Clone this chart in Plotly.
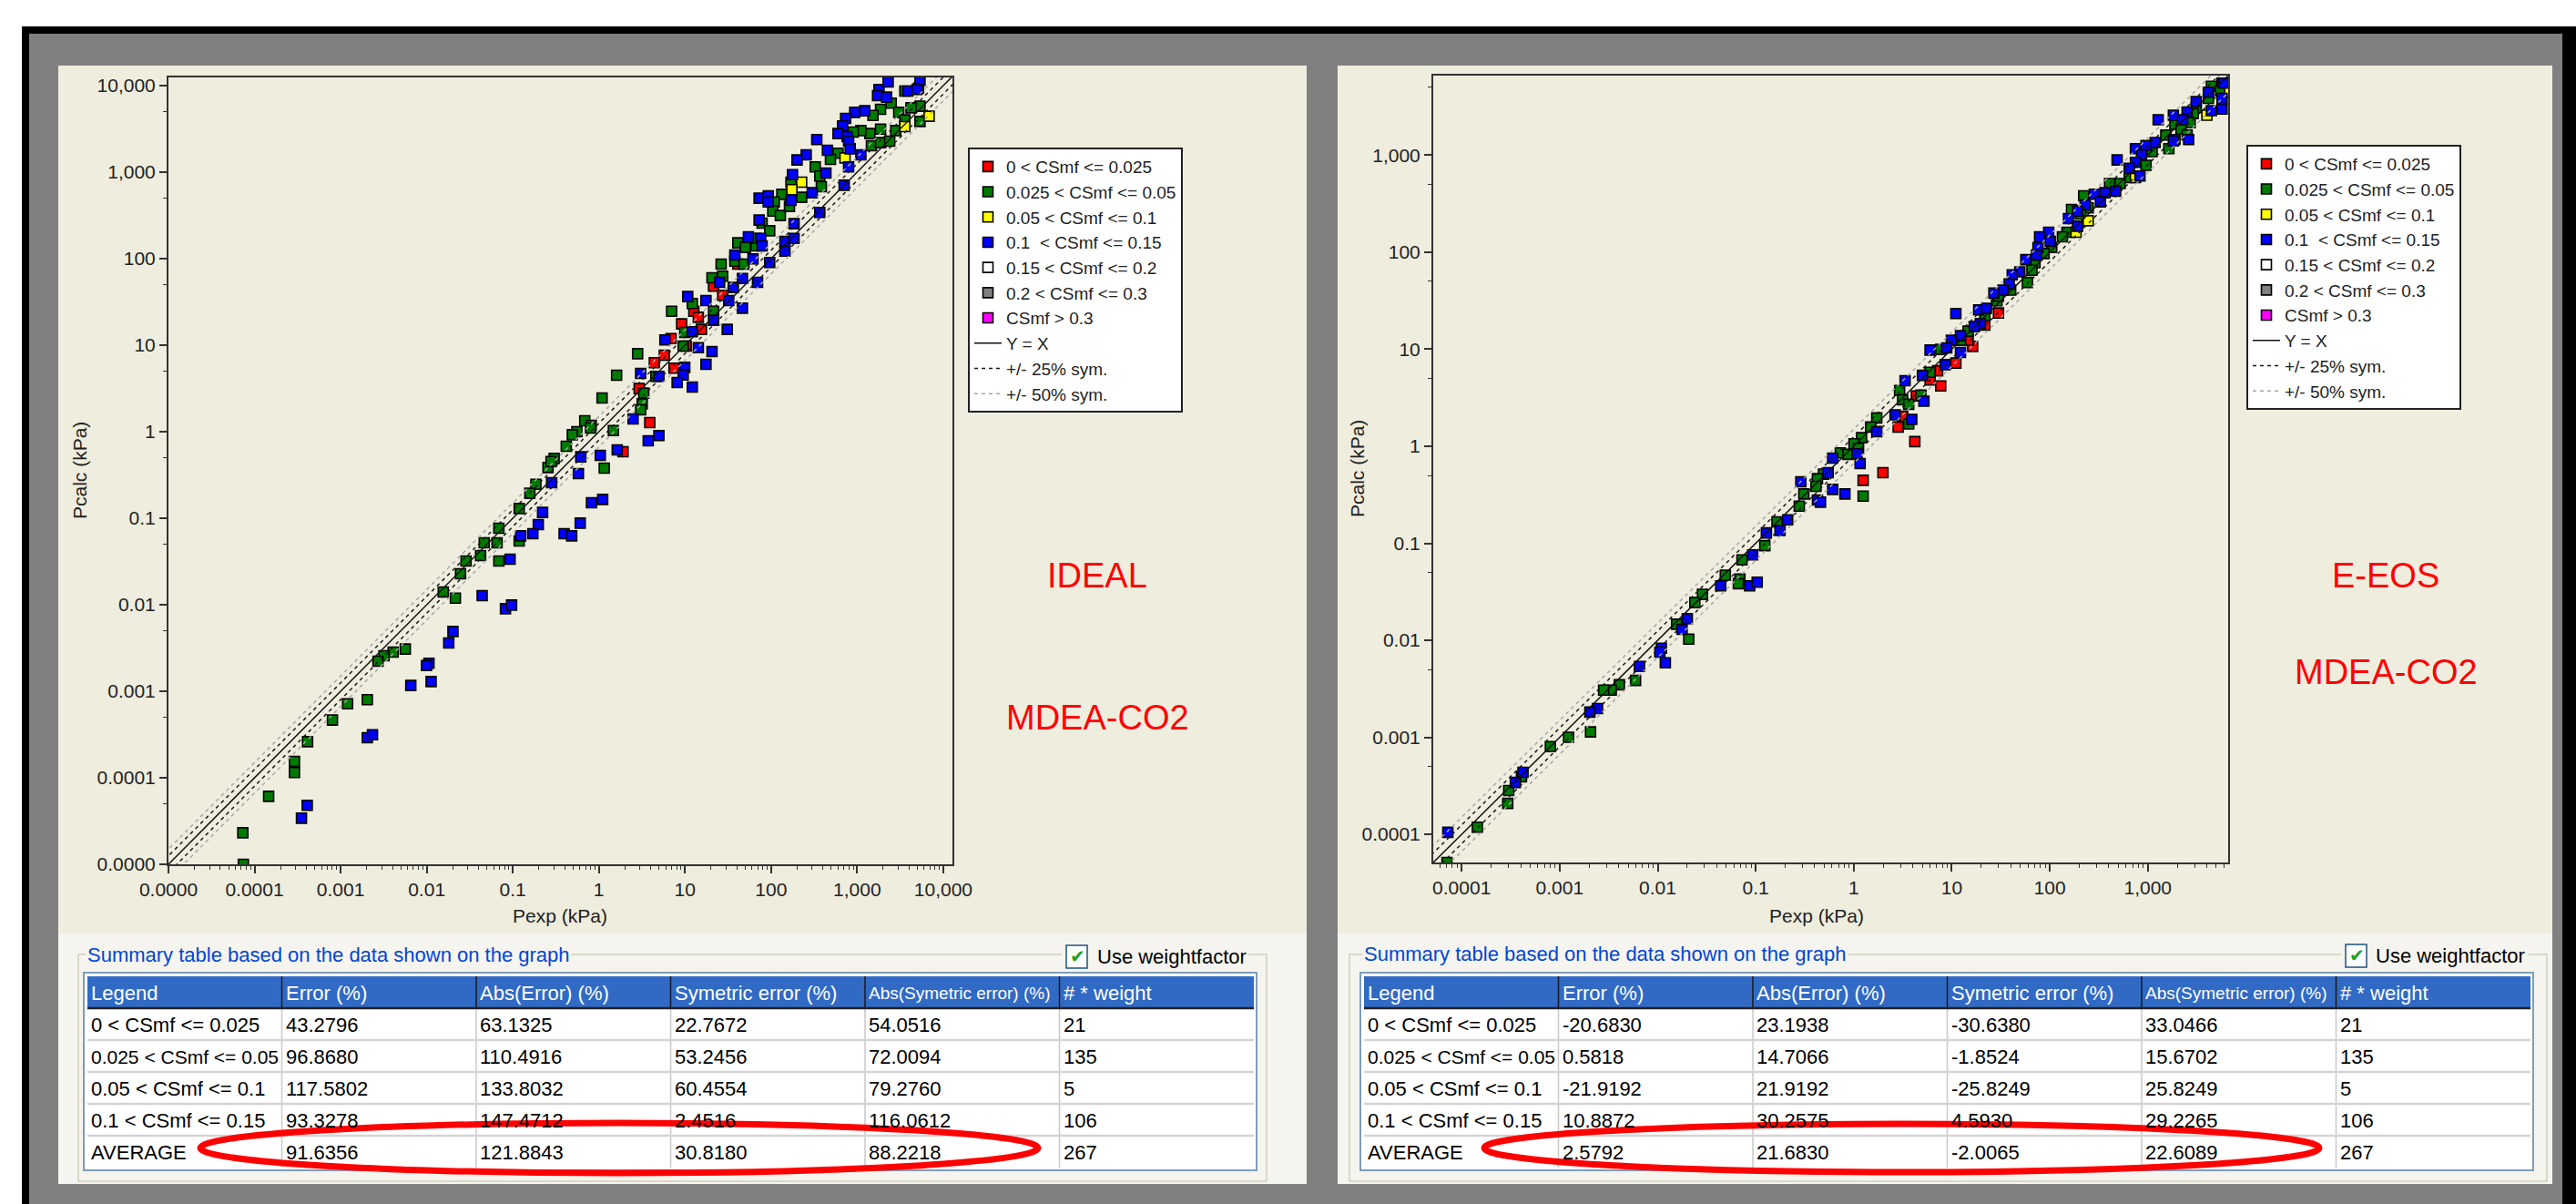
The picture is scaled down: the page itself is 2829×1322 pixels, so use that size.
import plotly.graph_objects as go

W, H = 2829, 1322
FONT = "Liberation Sans, Arial, Helvetica, sans-serif"

# ------------------------------------------------------------------
# DATA  (pressures, stored as log10 of kPa)
# ------------------------------------------------------------------
category_names = ["0 < CSmf <= 0.025", "0.025 < CSmf <= 0.05", "0.05 < CSmf <= 0.1",
                  "0.1 \u00a0< CSmf <= 0.15", "0.15 < CSmf <= 0.2", "0.2 < CSmf <= 0.3", "CSmf > 0.3"]
line_names = ["Y = X", "+/- 25% sym.", "+/- 50% sym."]
sym_factors = [1.25, 1.5]
ref_line_ends = [1e-6, 1e5]

# ---- IDEAL panel ----
ideal_red_log_pexp = [1.614, 1.332, 1.438, 1.103, 1.155, 0.961, 1.191, 0.838, 0.760, 0.644, 0.873, 1.014, 0.591, 0.468, 0.280]
ideal_red_log_pcalc = [1.937, 1.681, 1.576, 1.393, 1.323, 1.246, 1.183, 1.077, 0.884, 0.797, 0.734, 0.990, 0.106, 0.499, -0.232]

ideal_green_log_pexp = [3.554, 3.713, 3.730, 3.625, 3.395, 3.272, 3.184, 3.483, 3.554, 3.730, 3.448, 3.272, 3.148, 3.043, 2.954,
                        3.166, 3.272, 3.378, 2.778, 2.690, 2.513, 2.566, 2.584, 2.355, 2.231, 2.125, 2.037, 2.020, 2.108, 2.214,
                        1.896, 1.984, 1.614, 1.702, 1.826, 1.826, 1.420, 1.579, 1.685, 1.314, 1.438, 1.085, 0.845, 1.332, 0.997,
                        0.979, 0.521, 0.503, 0.485, 0.450, 0.662, 0.037, 0.206, -0.164, -0.090,
                        -0.256, -0.309, -0.379, 0.168, -0.097, -0.520, -0.591, -0.556, -0.732, -0.802, -0.926, -1.162, -1.183,
                        -1.332, -1.374, -1.543, -1.162, -1.607, -0.926, -1.808, -1.667, 0.062, -2.249, -2.390, -2.496, -2.566,
                        -2.690, -2.919, -3.095, -3.384, -3.536, -3.536, -3.836, -4.136, -4.130]
ideal_green_log_pcalc = [3.937, 3.972, 3.762, 3.744, 3.797, 3.727, 3.656, 3.691, 3.604, 3.586, 3.481, 3.498, 3.446, 3.481, 3.463,
                         3.306, 3.341, 3.358, 3.218, 3.148, 3.060, 2.955, 2.832, 2.709, 2.884, 2.744, 2.656, 2.551, 2.499, 2.604,
                         2.411, 2.323, 2.183, 2.130, 2.148, 2.235, 1.937, 1.972, 1.937, 1.779, 1.797, 1.481, 1.393, 1.393, 1.148,
                         0.990, 0.446, 0.323, 0.253, 0.902, 0.639, 0.389, 0.653, 0.126, 0.074,
                         0.000, -0.035, -0.169, 0.014, 0.042, -0.309, -0.414, -0.344, -0.607, -0.712, -0.888, -1.116, -1.284,
                         -1.284, -1.432, -1.495, -1.495, -1.642, -1.263, -1.853, -1.923, -0.421, -2.512, -2.547, -2.590, -2.653,
                         -3.098, -3.144, -3.333, -3.583, -3.811, -3.940, -4.214, -4.635, -5.000]

ideal_yellow_log_pexp = [3.836, 3.554, 2.859, 2.355, 2.242]
ideal_yellow_log_pcalc = [3.646, 3.527, 3.165, 2.884, 2.797]

ideal_blue_log_pexp = [3.254, 3.360, 3.237, 3.342, 3.730, 3.589, 3.695, 2.972, 3.088, 2.866, 2.831, 2.778, 2.884, 2.901, 2.919,
                       3.043, 2.901, 2.531, 2.655, 2.408, 2.302, 2.249, 2.637, 2.478, 1.861, 1.967, 1.967, 2.231, 2.849, 2.566,
                       1.861, 2.267, 2.161, 2.267, 2.161, 1.737, 1.879, 1.896, 1.579, 1.790, 1.984, 1.667, 1.402, 1.561, 1.843,
                       1.508, 1.032, 1.244, 1.332, 1.667, 1.491, 1.085, 0.767, 1.155, 1.314, 1.244, 0.997, 0.979, 0.697, 0.909,
                       1.085, 0.485, 0.697, 0.573, 0.397,
                       0.213, 0.016, -0.210, -0.238, -0.549, -0.654, -0.704, -0.767, -0.908, -1.032, -0.086, 0.044, -0.217,
                       -0.404, -0.316, -1.356, -1.085, -1.014, -1.695, -1.744, -1.974, -2.002, -1.949, -2.185, -2.690, -2.630,
                       -3.388, -3.455]
ideal_blue_log_pcalc = [3.955, 4.042, 3.884, 3.867, 4.060, 3.937, 3.955, 3.691, 3.709, 3.621, 3.534, 3.446, 3.411, 3.358, 3.270,
                        3.200, 3.060, 3.376, 3.253, 3.200, 3.141, 2.972, 2.990, 2.762, 2.699, 2.727, 2.656, 2.674, 2.849, 2.534,
                        2.446, 2.404, 2.200, 2.235, 2.088, 2.253, 2.235, 2.148, 2.042, 1.997, 1.955, 1.772, 1.727, 1.667, 1.727,
                        1.516, 1.562, 1.516, 1.288, 1.428, 1.183, 1.155, 1.060, 0.972, 0.927, 0.779, 0.744, 0.656, 0.639, 0.569,
                        0.516, 0.674, -0.045, -0.105, 0.147,
                        -0.211, -0.274, -0.291, -0.484, -0.590, -0.933, -1.074, -1.179, -1.204, -1.474, -0.821, -0.783, -1.056,
                        -1.179, -1.204, -1.895, -2.046, -2.004, -2.309, -2.442, -2.677, -2.702, -2.888, -2.933, -3.537, -3.502,
                        -4.319, -4.467]

# ---- E-EOS panel ----
eeos_red_log_pexp = [1.477, 1.337, 1.213, 1.167, 1.042, 0.856, 0.779, 0.887, 0.639, 0.499, 0.453, 0.623, 0.298, 0.096]
eeos_red_log_pcalc = [1.374, 1.249, 1.029, 1.092, 0.857, 0.778, 0.684, 0.622, 0.518, 0.308, 0.198, 0.048, -0.272, -0.351]

eeos_green_log_pexp = [3.758, 3.649, 3.743, 3.618, 3.494, 3.463, 3.339, 3.277, 3.432, 3.339, 3.184, 3.215, 3.277, 3.401, 2.982,
                       3.044, 2.811, 2.718, 2.610, 2.346, 2.392, 2.315, 2.222, 2.175, 2.129, 2.020, 1.942, 1.849, 1.818, 1.772,
                       1.601, 1.461, 1.477, 1.337, 1.167, 1.089, 0.887, 0.779, 0.468, 0.499, 0.561, 0.685, 0.561, 0.235, 0.173,
                       0.080, 0.003, 0.049, -0.137, -0.059, -0.308, -0.370, -0.385, -0.509, -0.556, 0.096,
                       -0.907, -1.140, -1.310, -1.161, -1.177, -1.543, -1.621, -1.807, -1.683, -2.226, -2.391, -2.474, -2.552,
                       -2.909, -2.685, -3.095, -3.390, -3.520, -3.530, -3.840, -0.783, -4.150]
eeos_green_log_pcalc = [3.742, 3.710, 3.663, 3.585, 3.491, 3.428, 3.350, 3.318, 3.334, 3.271, 3.208, 3.067, 3.161, 3.208, 2.895,
                        3.036, 2.769, 2.707, 2.707, 2.581, 2.456, 2.393, 2.440, 2.205, 2.158, 2.048, 1.986, 1.891, 1.813, 1.688,
                        1.609, 1.499, 1.547, 1.343, 1.186, 1.092, 0.998, 0.763, 0.574, 0.480, 0.433, 0.527, 0.229, 0.292, 0.198,
                        0.088, 0.026, -0.021, -0.068, -0.084, -0.288, -0.335, -0.413, -0.492, -0.617, -0.514,
                        -1.025, -1.172, -1.329, -1.370, -1.417, -1.527, -1.611, -1.834, -1.988, -2.414, -2.458, -2.514, -2.514,
                        -3.000, -2.944, -3.095, -3.408, -3.549, -3.681, -3.926, -0.780, -4.290]

eeos_yellow_log_pexp = [2.392, 2.268, 3.603, 3.836, 2.874]
eeos_yellow_log_pcalc = [2.324, 2.205, 3.412, 3.648, 2.769]

eeos_blue_log_pexp = [3.774, 3.618, 3.758, 3.649, 3.758, 3.494, 3.401, 3.261, 3.355, 3.106, 3.417, 3.261, 3.075, 2.982, 2.874,
                      2.936, 2.874, 2.811, 2.920, 2.687, 2.672, 2.563, 2.455, 2.517, 2.361, 2.284, 2.191, 2.284, 1.989, 1.896,
                      2.005, 1.880, 1.865, 1.756, 1.694, 1.617, 1.586, 1.523, 1.430, 1.275, 1.353, 1.291, 1.229, 1.089, 1.042,
                      0.996, 0.949, 0.779, 1.089, 0.934, 0.701, 0.524, 0.716, 0.422, 0.592, 0.235, 0.065, -0.215, -0.261,
                      -0.540, -0.215, -0.090, -0.370, -0.339, 0.034,
                      -0.891, -0.752, -0.674, -1.031, -1.357, -1.062, -0.985, -1.698, -1.751, -1.962, -1.978, -1.922, -2.186,
                      -2.614, -2.692, -3.374, -3.452, -4.141]
eeos_blue_log_pcalc = [3.742, 3.648, 3.585, 3.459, 3.475, 3.553, 3.444, 3.412, 3.365, 3.365, 3.161, 3.146, 3.130, 3.099, 3.067,
                       3.005, 2.926, 2.864, 2.785, 2.951, 2.628, 2.613, 2.597, 2.519, 2.487, 2.425, 2.346, 2.268, 2.205, 2.158,
                       2.111, 2.048, 1.970, 1.923, 1.797, 1.766, 1.672, 1.609, 1.578, 1.405, 1.421, 1.264, 1.233, 1.139, 1.368,
                       1.092, 1.013, 0.991, 0.966, 0.841, 0.731, 0.675, 0.465, 0.324, 0.277, 0.151, -0.178, -0.122, -0.272,
                       -0.366, -0.445, -0.492, -0.554, -0.576, -0.078,
                       -0.893, -0.868, -0.758, -1.119, -1.439, -1.439, -1.401, -1.778, -1.887, -2.082, -2.122, -2.232, -2.270,
                       -2.703, -2.740, -3.361, -3.465, -3.979]

# ---- tick labels ----
ideal_tick_vals = [1e-5, 1e-4, 1e-3, 1e-2, 1e-1, 1, 10, 100, 1000, 10000]
ideal_tick_text = ["0.0000", "0.0001", "0.001", "0.01", "0.1", "1", "10", "100", "1,000", "10,000"]
eeos_tick_vals = [1e-4, 1e-3, 1e-2, 1e-1, 1, 10, 100, 1000]
eeos_tick_text = ["0.0001", "0.001", "0.01", "0.1", "1", "10", "100", "1,000"]
minor_x_mult = [2, 3, 4, 5, 6, 7, 8, 9]
minor_y_mult = [5]

# ---- summary tables ----
table_header = ["Legend", "Error (%)", "Abs(Error) (%)", "Symetric error (%)", "Abs(Symetric error) (%)", "# * weight"]
table_row_labels = ["0 < CSmf <= 0.025", "0.025 < CSmf <= 0.05", "0.05 < CSmf <= 0.1", "0.1 < CSmf <= 0.15", "AVERAGE"]
table_weights = [21, 135, 5, 106, 267]
ideal_error = [43.2796, 96.8680, 117.5802, 93.3278, 91.6356]
ideal_abs_error = [63.1325, 110.4916, 133.8032, 147.4712, 121.8843]
ideal_sym_error = [22.7672, 53.2456, 60.4554, 2.4516, 30.8180]
ideal_abs_sym_error = [54.0516, 72.0094, 79.2760, 116.0612, 88.2218]
eeos_error = [-20.6830, 0.5818, -21.9192, 10.8872, 2.5792]
eeos_abs_error = [23.1938, 14.7066, 21.9192, 30.2575, 21.6830]
eeos_sym_error = [-30.6380, -1.8524, -25.8249, 4.5930, -2.0065]
eeos_abs_sym_error = [33.0466, 15.6702, 25.8249, 29.2265, 22.6089]

# ------------------------------------------------------------------
# STYLE
# ------------------------------------------------------------------
cat_colors = ["#FF0000", "#007A00", "#FFFF00", "#0000FF", "#FFFFFF", "#808080", "#FF00FF"]
BEIGE = "#EFEDDE"
LIGHT = "#F5F4EE"
GRAY = "#808080"


def px(x):
    return x / W


def py(y):
    return 1 - y / H


def nb(s):
    return str(s).replace(" ", "\u00a0")


fig = go.Figure()


def add_panel(series, xa, ya, leg):
    for i, (lx, ly) in enumerate(series):
        xs = [10 ** v for v in lx] if lx else [None]
        ys = [10 ** v for v in ly] if ly else [None]
        fig.add_trace(go.Scatter(
            x=xs, y=ys, mode="markers",
            name=category_names[i], legend=leg, xaxis=xa, yaxis=ya, hoverinfo="skip",
            marker=dict(symbol="square", size=11, color=cat_colors[i],
                        line=dict(color="#000000", width=1.6))))
    a, b = ref_line_ends
    fig.add_trace(go.Scatter(x=[a, b], y=[a, b], mode="lines", name=line_names[0], legend=leg,
                             xaxis=xa, yaxis=ya, hoverinfo="skip",
                             line=dict(color="#111111", width=1.5)))
    for f, nm, col in zip(sym_factors, line_names[1:], ["#1a1a1a", "#a8a8a8"]):
        fig.add_trace(go.Scatter(x=[a, b, None, a, b], y=[a * f, b * f, None, a / f, b / f],
                                 mode="lines", name=nm, legend=leg, xaxis=xa, yaxis=ya, hoverinfo="skip",
                                 line=dict(color=col, width=1.5, dash="4px,4px")))


empty = ([], [])
add_panel([(ideal_red_log_pexp, ideal_red_log_pcalc), (ideal_green_log_pexp, ideal_green_log_pcalc),
           (ideal_yellow_log_pexp, ideal_yellow_log_pcalc), (ideal_blue_log_pexp, ideal_blue_log_pcalc),
           empty, empty, empty], "x", "y", "legend")
add_panel([(eeos_red_log_pexp, eeos_red_log_pcalc), (eeos_green_log_pexp, eeos_green_log_pcalc),
           (eeos_yellow_log_pexp, eeos_yellow_log_pcalc), (eeos_blue_log_pexp, eeos_blue_log_pcalc),
           empty, empty, empty], "x2", "y2", "legend2")


# ---- axes ----
def axis(domain, rng, tv, tt, anchor, minor_mult):
    minor_vals = [m * 10 ** d for d in range(-6, 5) for m in minor_mult]
    return dict(domain=domain, type="log", range=rng, anchor=anchor, automargin=False,
                tickmode="array", tickvals=tv, ticktext=tt,
                showline=True, mirror=True, linecolor="#333333", linewidth=2,
                ticks="outside", ticklen=8, tickwidth=1.5, tickcolor="#333333",
                showgrid=False, zeroline=False,
                tickfont=dict(size=21, color="#222222", family=FONT),
                minor=dict(tickmode="array", tickvals=minor_vals, ticks="outside", ticklen=4,
                           tickwidth=1, tickcolor="#333333", showgrid=False))


shapes = []
annotations = []


def rect(x0, y0, x1, y1, fill=None, line_color=None, lw=0, layer="below", kind="rect"):
    shapes.append(dict(type=kind, xref="paper", yref="paper", layer=layer,
                       x0=px(x0), x1=px(x1), y0=py(y1), y1=py(y0),
                       fillcolor=fill if fill else "rgba(0,0,0,0)",
                       line=dict(color=line_color if line_color else "rgba(0,0,0,0)", width=lw)))


def seg(x0, y0, x1, y1, color, lw, layer="below"):
    shapes.append(dict(type="line", xref="paper", yref="paper", layer=layer,
                       x0=px(x0), x1=px(x1), y0=py(y0), y1=py(y1),
                       line=dict(color=color, width=lw)))


def text(x, y, s, size=21, color="#222222", xanchor="center", angle=0, bg=None, family=FONT, width=None):
    d = dict(x=px(x), y=py(y), xref="paper", yref="paper", text=s, showarrow=False,
             xanchor=xanchor, yanchor="middle", textangle=angle,
             font=dict(size=size, color=color, family=family))
    if bg:
        d["bgcolor"] = bg
    if width:
        d["width"] = width
        d["align"] = "left"
    annotations.append(d)


# window frame
rect(24, 29, 2829, 1322, fill="#000000")
rect(32, 37, 2814, 1322, fill=GRAY)
# panels
for x0, x1 in [(64, 1435), (1469, 2803)]:
    rect(x0, 72, x1, 1025, fill=BEIGE)
    rect(x0, 1025, x1, 1300, fill=LIGHT)
# group boxes
rect(86, 1048, 1391, 1297, line_color="#D0D0BF", lw=1.5)
rect(1482, 1048, 2797, 1297, line_color="#D0D0BF", lw=1.5)
# checkbox masks + boxes
for cx in [1166, 2571]:
    rect(cx, 1036, cx + 205, 1064, fill=LIGHT)
rect(1171, 1038, 1194, 1063, fill="#FFFFFF", line_color="#1C5180", lw=1.5)
rect(2576, 1037, 2599, 1062, fill="#FFFFFF", line_color="#1C5180", lw=1.5)


# ---- summary tables (header, grid, cell texts) ----
def draw_table(x0, cols):
    cw = 213.5
    top, hh, rh = 1072, 35, 35
    x1 = x0 + 6 * cw
    bottom = top + hh + 5 * rh
    rect(x0 - 4, top - 4, x1 + 3, bottom + 3, fill="#FFFFFF", line_color="#7F9DB9", lw=2)
    rect(x0, top, x1, top + hh, fill="#316AC5")
    for i in range(1, 6):
        xs = x0 + i * cw
        seg(xs, top, xs, top + hh, "#1a1a1a", 1.5)
        seg(xs, top + hh, xs, bottom, "#c8c8c8", 1.5)
    for r in range(1, 5):
        seg(x0, top + hh + r * rh, x1, top + hh + r * rh, "#d4d4d4", 2.5)
    seg(x0, top + hh, x1, top + hh, "#222222", 2.5)
    for c, h in enumerate(table_header):
        # the long header is set slightly smaller so that it stays inside its own column
        size = 19 if len(h) > 20 else 22
        text(x0 + c * cw + 2, top + hh / 2 + 1, nb(h), size=size, color="#FFFFFF", xanchor="left", width=cw - 4)
    for c, col in enumerate(cols):
        for r, s in enumerate(col):
            size = 21 if len(s) > 18 else 22
            text(x0 + c * cw + 2, top + hh + r * rh + rh / 2 + 1, nb(s), size=size, color="#000000",
                 xanchor="left", width=cw - 4)


def fmt_cols(err, aerr, serr, aserr):
    return [table_row_labels,
            ["%.4f" % v for v in err], ["%.4f" % v for v in aerr],
            ["%.4f" % v for v in serr], ["%.4f" % v for v in aserr],
            [str(v) for v in table_weights]]


draw_table(96, fmt_cols(ideal_error, ideal_abs_error, ideal_sym_error, ideal_abs_sym_error))
draw_table(1498, fmt_cols(eeos_error, eeos_abs_error, eeos_sym_error, eeos_abs_sym_error))

# red highlight ellipses
rect(220, 1233, 1140, 1288, line_color="#FF0000", lw=7, layer="above", kind="circle")
rect(1630, 1234, 2547, 1287, line_color="#FF0000", lw=7, layer="above", kind="circle")

text(615, 1005, "Pexp (kPa)")
text(87, 517, "Pcalc (kPa)", angle=-90)
text(1995, 1005, "Pexp (kPa)")
text(1490, 515, "Pcalc (kPa)", angle=-90)
text(1205, 632, "IDEAL", size=38, color="#FF0000")
text(1205, 788, "MDEA-CO2", size=38, color="#FF0000")
text(2620, 632, "E-EOS", size=38, color="#FF0000")
text(2620, 738, "MDEA-CO2", size=38, color="#FF0000")
text(94, 1048, "Summary table based on the data shown on the graph", size=22, color="#0046D5",
     xanchor="left", bg=LIGHT)
text(1496, 1047, "Summary table based on the data shown on the graph", size=22, color="#0046D5",
     xanchor="left", bg=LIGHT)
text(1203, 1050, "Use weightfactor", size=22, color="#000000", xanchor="left")
text(2607, 1049, "Use weightfactor", size=22, color="#000000", xanchor="left")
text(1183, 1050, "\u2714", size=20, color="#21A121", family="DejaVu Sans")
text(2588, 1049, "\u2714", size=20, color="#21A121", family="DejaVu Sans")

legend_style = dict(xanchor="left", yanchor="top", bgcolor="#FFFFFF", bordercolor="#222222", borderwidth=2,
                    font=dict(size=19, color="#222222", family=FONT), tracegroupgap=0, traceorder="normal")

fig.update_layout(
    width=W, height=H, margin=dict(l=0, r=0, t=0, b=0, pad=0, autoexpand=False),
    paper_bgcolor="#FFFFFF", plot_bgcolor="rgba(0,0,0,0)",
    font=dict(family=FONT, size=21, color="#222222"),
    showlegend=True,
    legend=dict(x=px(1063), y=py(162), **legend_style),
    legend2=dict(x=px(2467), y=py(159), **legend_style),
    xaxis=axis([px(185), px(1046)], [-5, 4.107], ideal_tick_vals, ideal_tick_text, "y", minor_x_mult),
    yaxis=axis([py(949), py(85)], [-5, 4.095], ideal_tick_vals, ideal_tick_text, "x", minor_y_mult),
    xaxis2=axis([px(1574), px(2447)], [-4.29, 3.82], eeos_tick_vals, eeos_tick_text, "y2", minor_x_mult),
    yaxis2=axis([py(947), py(83)], [-4.29, 3.82], eeos_tick_vals, eeos_tick_text, "x2", minor_y_mult),
    shapes=shapes, annotations=annotations,
)

fig.write_html("out.html", config={"displayModeBar": False},
               post_script="document.body.style.margin='0px';document.body.style.overflow='hidden';")
